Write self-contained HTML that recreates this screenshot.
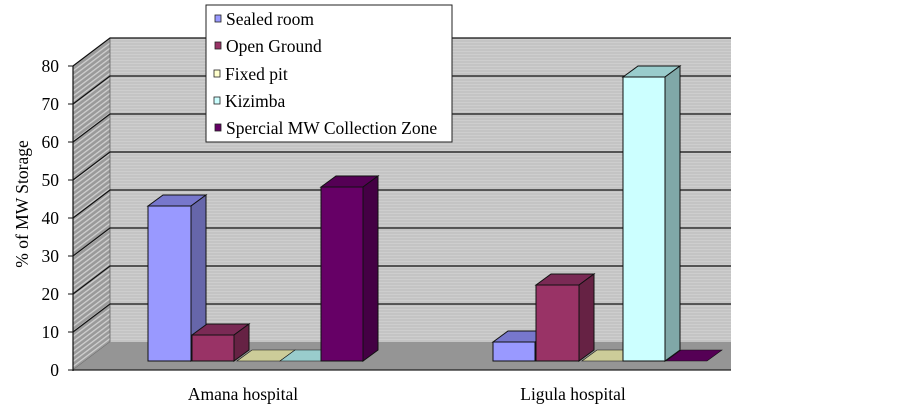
<!DOCTYPE html>
<html><head><meta charset="utf-8"><style>
html,body{margin:0;padding:0;background:#fff;}
svg text{font-family:"Liberation Serif",serif;}
</style></head><body>
<svg width="903" height="408" viewBox="0 0 903 408" xmlns="http://www.w3.org/2000/svg">
<defs>
<pattern id="hat" width="4" height="4" patternUnits="userSpaceOnUse" patternTransform="rotate(-37)">
<rect width="4" height="4" fill="#9a9a9a"/><rect width="4" height="1.3" fill="#d0d0d0"/>
</pattern>
<pattern id="str" width="4" height="3" patternUnits="userSpaceOnUse">
<rect width="4" height="3" fill="#c4c4c4"/><rect width="4" height="1" fill="#cecece"/>
</pattern>
</defs>
<rect x="110" y="38" width="621" height="304" fill="url(#str)"/>
<line x1="110" y1="38" x2="731" y2="38" stroke="#555" stroke-width="1"/>
<polygon points="73,66 110,38 110,342 73,370" fill="url(#hat)" stroke="#666" stroke-width="0.8"/>
<polygon points="73,370 110,342 731,342 731,370" fill="#959595"/>
<line x1="73" y1="370" x2="731" y2="370" stroke="#222" stroke-width="1.2"/>
<g stroke="#111" stroke-width="1.2" fill="none">
<polyline points="73,66 110,38 731,38"/>
<polyline points="73,104 110,76 731,76"/>
<polyline points="73,142 110,114 731,114"/>
<polyline points="73,180 110,152 731,152"/>
<polyline points="73,218 110,190 731,190"/>
<polyline points="73,256 110,228 731,228"/>
<polyline points="73,294 110,266 731,266"/>
<polyline points="73,332 110,304 731,304"/>
<line x1="73" y1="66" x2="73" y2="371"/>
</g>
<g stroke="#111" stroke-width="1">
<line x1="68" y1="66" x2="73" y2="66"/><line x1="68" y1="104" x2="73" y2="104"/><line x1="68" y1="142" x2="73" y2="142"/><line x1="68" y1="180" x2="73" y2="180"/><line x1="68" y1="218" x2="73" y2="218"/><line x1="68" y1="256" x2="73" y2="256"/><line x1="68" y1="294" x2="73" y2="294"/><line x1="68" y1="332" x2="73" y2="332"/><line x1="68" y1="370" x2="73" y2="370"/>
</g>
<g font-size="17.5" text-anchor="end" fill="#000">
<text x="59" y="72">80</text><text x="59" y="110">70</text><text x="59" y="148">60</text><text x="59" y="186">50</text><text x="59" y="224">40</text><text x="59" y="262">30</text><text x="59" y="300">20</text><text x="59" y="338">10</text><text x="59" y="376">0</text>
</g>
<text x="28" y="204" font-size="17.5" text-anchor="middle" transform="rotate(-90 28 204)">% of MW Storage</text>
<g stroke="#111" stroke-width="1">
<polygon points="148,206 163,195 206,195 191,206" fill="#7777cc"/>
<polygon points="191,206 206,195 206,350 191,361" fill="#6666aa"/>
<rect x="148" y="206" width="43" height="155" fill="#9999ff"/>
<polygon points="192,335 207,324 249,324 234,335" fill="#7a2a55"/>
<polygon points="234,335 249,324 249,350 234,361" fill="#662244"/>
<rect x="192" y="335" width="42" height="26" fill="#993366"/>
<polygon points="237,361 252,350 295,350 280,361" fill="#cccc99" stroke-width="0.6"/>
<polygon points="280,361 295,350 336,350 321,361" fill="#99cccc" stroke-width="0.6"/>
<polygon points="321,187 336,176 378,176 363,187" fill="#550055"/>
<polygon points="363,187 378,176 378,350 363,361" fill="#440044"/>
<rect x="321" y="187" width="42" height="174" fill="#660066"/>
<polygon points="493,342 508,331 550,331 535,342" fill="#7777cc"/>
<rect x="493" y="342" width="42" height="19" fill="#9999ff"/>
<polygon points="536,285 551,274 594,274 579,285" fill="#7a2a55"/>
<polygon points="579,285 594,274 594,350 579,361" fill="#662244"/>
<rect x="536" y="285" width="43" height="76" fill="#993366"/>
<polygon points="582,361 597,350 638,350 623,361" fill="#cccc99" stroke-width="0.6"/>
<polygon points="623,77 638,66 680,66 665,77" fill="#99cccc"/>
<polygon points="665,77 680,66 680,350 665,361" fill="#80a8a8"/>
<rect x="623" y="77" width="42" height="284" fill="#ccffff"/>
<polygon points="666,361 681,350 722,350 707,361" fill="#550055" stroke-width="0.6"/>
</g>
<rect x="206" y="5" width="246" height="137" fill="#fff" stroke="#222" stroke-width="1"/>
<g stroke="#222" stroke-width="0.8">
<rect x="215" y="15" width="6" height="7" fill="#9999ff"/>
<rect x="215" y="42" width="6" height="7" fill="#993366"/>
<rect x="214" y="70" width="6" height="7" fill="#ffffcc"/>
<rect x="214" y="97" width="6" height="7" fill="#ccffff"/>
<rect x="215" y="124" width="6" height="7" fill="#660066"/>
</g>
<g font-size="17.5" fill="#000">
<text x="226" y="25">Sealed room</text>
<text x="226" y="52">Open Ground</text>
<text x="225" y="80">Fixed pit</text>
<text x="225" y="107">Kizimba</text>
<text x="226" y="134">Spercial MW Collection Zone</text>
</g>
<text x="243" y="400" font-size="17.5" text-anchor="middle">Amana hospital</text>
<text x="573" y="400" font-size="17.5" text-anchor="middle">Ligula hospital</text>
</svg>
</body></html>
